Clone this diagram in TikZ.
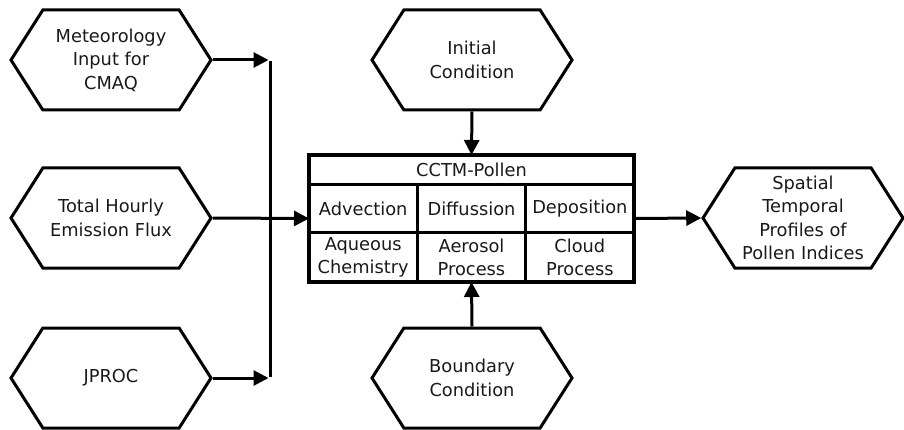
\documentclass[tikz,border=0pt]{standalone}
\usepackage{fontspec}
\setmainfont{DejaVu Sans}
\usetikzlibrary{arrows.meta,positioning,shapes.symbols}
\definecolor{inktext}{RGB}{25,25,25}

\begin{document}
\begin{tikzpicture}[x=1pt,y=-1pt,
    hexbox/.style={shape=signal,signal to=east and west,signal pointer angle=115,
      draw,line width=3pt,align=center,minimum width=200pt,minimum height=100pt,
      inner sep=2pt,text=inktext,font=\fontsize{17.8}{23.5}\selectfont},
    frame/.style={draw,line width=3.2pt,minimum width=325pt,minimum height=127pt,
      inner sep=0pt,outer sep=0pt},
    cell/.style={draw,line width=3pt,align=center,anchor=north west,
      minimum width=108.33pt,inner sep=0pt,outer sep=0pt,text=inktext,
      font=\fontsize{17.8}{23}\selectfont},
    arr/.style={-{Triangle[length=15pt,width=15pt]},line width=3pt}
  ]
    \useasboundingbox (0,0) rectangle (904,430);
    % inputs on the left
    \node[hexbox] (meteo) at (111,60) {Meteorology\\Input for\\CMAQ};
    \node[hexbox] (emis) at (111,218) {Total Hourly\\Emission Flux};
    \node[hexbox] (jproc) at (111,378) {JPROC};
    % conditions above and below
    \node[hexbox] (init) at (472,60) {Initial\\Condition};
    \node[hexbox] (bound) at (472,378) {Boundary\\Condition};
    % chemistry transport model
    \node[frame] (cctm) at (471.5,218.5) {};
    \node[cell,minimum width=325pt,minimum height=30pt] (head) at (cctm.north west) {CCTM-Pollen};
    \node[cell,minimum height=48pt] (adv) at (head.south west) {Advection};
    \node[cell,minimum height=48pt] (diff) at (adv.north east) {Diffussion};
    \node[cell,minimum height=48pt] (dep) at (diff.north east) {Deposition};
    \node[cell,minimum height=49pt] (aq) at (adv.south west) {Aqueous\\Chemistry};
    \node[cell,minimum height=49pt] (aer) at (aq.north east) {Aerosol\\Process};
    \node[cell,minimum height=49pt] (cloud) at (aer.north east) {Cloud\\Process};
    \node[frame] at (cctm) {};
    % output
    \node[hexbox] (out) at (803,218) {Spatial\\Temporal\\Profiles of\\Pollen Indices};
    % connectors
    \coordinate (bustop) at (270,60);
    \coordinate (busbot) at (270,378);
    \draw[line width=3pt] ([yshift=-1.5pt]bustop) -- ([yshift=1.5pt]busbot);
    \draw[arr,shorten >=1.5pt] (meteo.east) -- (bustop);
    \draw[arr,shorten >=1.5pt] (jproc.east) -- (busbot);
    \draw[arr] (emis.east) -- (cctm.west);
    \draw[arr] (init.south) -- (cctm.north);
    \draw[arr] (bound.north) -- (cctm.south);
    \draw[arr] (cctm.east) -- (out.west);
  \end{tikzpicture}
\end{document}
